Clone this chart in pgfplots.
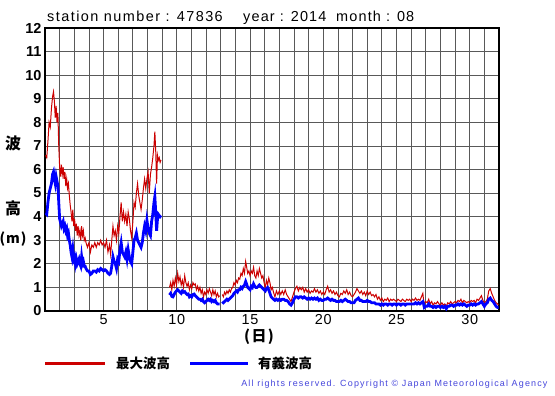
\documentclass[border=0pt]{standalone}
\usepackage{pgfplots}
\pgfplotsset{compat=1.18}
\usepackage{pgfplotstable}
\usepackage{fontspec}
\setmainfont{Liberation Sans}
\newfontfamily\jp{Noto Sans CJK JP}
\definecolor{maxred}{RGB}{204,0,0}
\definecolor{sigblue}{RGB}{0,0,255}
\definecolor{copyblue}{RGB}{70,70,220}

\pgfplotstableread{
x r b
1.04 6.6 4.15
1.12 6.5 4.1
1.2 7.2 4.6
1.28 8.0 5.0
1.36 7.8 5.2
1.44 8.6 5.4
1.52 9.1 5.8
1.58 9.3 5.9
1.64 8.9 5.6
1.70 8.2 5.4
1.76 8.7 5.7
1.82 8.0 5.5
1.88 8.4 5.3
1.94 7.0 4.6
2.0 6.1 3.9
2.06 5.7 3.75
2.12 6.2 3.6
2.18 5.8 3.7
2.24 6.1 3.8
2.3 5.6 3.5
2.36 5.9 3.6
2.42 5.3 3.4
2.48 5.6 3.5
2.54 5.2 3.2
2.6 5.4 3.3
2.66 4.9 3.0
2.72 4.5 2.8
2.78 4.2 2.5
2.84 3.8 2.3
2.9 4.3 2.6
2.96 3.6 2.2
3.02 3.9 2.3
3.08 3.4 2.0
3.14 3.7 2.2
3.2 3.2 2.0
3.26 3.6 2.1
3.32 3.2 2.2
3.38 3.4 2.0
3.44 3.0 1.9
3.5 3.6 2.3
3.56 3.2 2.0
3.62 3.4 2.1
3.68 3.0 1.9
3.74 3.1 1.9
3.8 2.9 1.8
3.9 2.7 1.7
4.0 2.9 1.7
4.1 2.5 1.55
4.2 2.8 1.6
4.3 2.7 1.7
4.4 2.9 1.7
4.5 2.7 1.65
4.6 2.9 1.75
4.7 2.8 1.7
4.8 3.0 1.8
4.9 2.8 1.75
5.0 2.9 1.7
5.1 2.7 1.75
5.2 3.0 1.7
5.3 2.5 1.6
5.4 2.8 1.55
5.48 2.4 1.6
5.56 3.0 1.9
5.64 3.6 2.3
5.72 3.2 2.1
5.8 3.4 2.0
5.88 3.0 1.8
5.96 3.6 2.2
6.04 3.3 2.1
6.12 4.0 2.6
6.2 4.6 2.9
6.28 3.8 2.5
6.36 4.2 2.4
6.44 3.8 2.3
6.52 4.1 2.5
6.6 3.6 2.2
6.68 4.2 2.6
6.76 3.9 2.3
6.84 3.4 2.1
6.92 3.1 2.0
7.0 3.8 2.5
7.08 4.6 3.0
7.16 4.4 3.1
7.24 5.0 3.3
7.32 5.4 3.0
7.4 4.9 2.9
7.48 4.6 2.8
7.56 4.3 2.7
7.64 4.7 2.9
7.72 5.2 3.3
7.8 5.6 3.6
7.88 5.2 3.4
7.96 5.6 3.85
8.04 5.9 3.5
8.12 5.0 3.3
8.2 5.8 3.2
8.28 6.1 3.8
8.36 6.5 4.1
8.44 7.0 4.6
8.5 7.6 4.85
8.56 6.8 4.2
8.62 5.4 3.4
8.68 6.6 3.9
8.74 6.4 4.1
8.8 6.5 4.05
8.86 6.3 4.0
8.92 6.4 4.05
9.2 nan nan
9.5 1.0 0.68
9.58 1.2 0.75
9.66 0.9 0.62
9.74 1.3 0.6
9.82 1.05 0.7
9.9 1.4 0.8
9.98 1.1 0.85
10.06 1.6 0.9
10.14 1.25 0.85
10.22 1.45 0.8
10.3 1.1 0.75
10.38 1.3 0.85
10.46 1.0 0.8
10.54 1.5 0.82
10.62 1.2 0.75
10.7 1.05 0.7
10.78 1.2 0.72
10.86 0.9 0.6
10.94 1.1 0.65
11.02 0.95 0.6
11.1 1.2 0.7
11.18 1.1 0.72
11.26 1.15 0.65
11.34 0.9 0.6
11.42 1.05 0.55
11.5 0.85 0.5
11.58 1.0 0.5
11.66 0.75 0.45
11.74 0.9 0.5
11.82 0.6 0.4
11.9 0.8 0.35
11.98 0.7 0.4
12.06 0.9 0.45
12.14 0.75 0.5
12.22 0.95 0.45
12.3 0.8 0.5
12.38 0.65 0.4
12.46 0.9 0.45
12.54 0.7 0.4
12.62 0.85 0.45
12.7 0.6 0.35
12.78 0.75 0.3
12.86 0.6 0.3
12.92 0.65 0.3
13.0 nan nan
13.1 0.7 0.4
13.18 0.6 0.35
13.26 0.8 0.4
13.34 0.7 0.45
13.42 0.85 0.5
13.5 0.75 0.45
13.58 0.9 0.5
13.66 0.8 0.55
13.74 0.95 0.6
13.82 1.0 0.65
13.9 1.2 0.75
13.98 1.1 0.8
14.06 1.3 0.85
14.14 1.2 0.8
14.22 1.4 0.9
14.3 1.35 0.9
14.38 1.6 1.0
14.46 1.5 0.95
14.54 1.8 1.05
14.62 1.6 1.1
14.7 2.1 1.25
14.76 1.9 1.15
14.84 1.6 1.0
14.92 1.7 0.95
15.0 1.5 0.9
15.08 1.7 1.05
15.16 1.6 1.0
15.24 1.85 1.15
15.32 1.5 1.05
15.4 1.4 1.0
15.48 1.7 1.0
15.56 1.5 1.05
15.64 1.8 1.1
15.72 1.6 1.05
15.8 1.4 1.0
15.88 1.5 0.95
15.96 1.2 0.9
16.04 1.0 0.85
16.12 1.3 0.95
16.2 1.1 1.0
16.28 1.4 0.9
16.36 1.2 0.75
16.44 0.9 0.6
16.52 1.0 0.55
16.6 0.8 0.5
16.7 0.6 0.45
16.8 0.85 0.5
16.9 0.7 0.45
17.0 0.85 0.5
17.1 0.7 0.45
17.2 0.85 0.5
17.3 0.7 0.5
17.4 0.9 0.45
17.5 0.7 0.45
17.6 0.6 0.4
17.7 0.5 0.3
17.8 0.4 0.25
17.9 0.6 0.35
18.0 0.8 0.5
18.1 0.95 0.6
18.2 1.05 0.6
18.3 0.85 0.55
18.4 1.0 0.6
18.5 0.9 0.6
18.6 1.0 0.55
18.7 0.8 0.6
18.8 0.95 0.55
18.9 0.8 0.5
19.0 0.9 0.55
19.1 0.75 0.5
19.2 0.85 0.55
19.3 0.8 0.5
19.4 0.95 0.55
19.5 0.8 0.5
19.6 0.9 0.55
19.7 0.75 0.45
19.8 0.85 0.5
19.9 0.7 0.45
20.0 0.8 0.45
20.1 0.7 0.5
20.2 0.9 0.5
20.3 1.05 0.55
20.4 0.8 0.5
20.5 0.9 0.45
20.6 0.75 0.5
20.7 0.85 0.45
20.8 0.7 0.45
20.9 0.8 0.4
21.0 0.65 0.4
21.1 0.6 0.4
21.2 0.75 0.45
21.3 0.7 0.4
21.4 0.85 0.45
21.5 0.75 0.5
21.6 0.9 0.45
21.7 0.7 0.4
21.8 0.8 0.4
21.9 0.65 0.35
22.0 0.6 0.35
22.1 0.7 0.35
22.2 0.8 0.45
22.3 0.95 0.5
22.4 0.85 0.55
22.5 0.75 0.45
22.6 0.85 0.45
22.7 0.7 0.4
22.8 0.8 0.4
22.9 0.65 0.4
23.0 0.85 0.45
23.1 0.7 0.4
23.2 0.8 0.4
23.3 0.65 0.35
23.4 0.7 0.35
23.5 0.6 0.35
23.6 0.7 0.3
23.7 0.5 0.3
23.8 0.6 0.3
23.9 0.45 0.25
24.0 0.55 0.3
24.1 0.4 0.25
24.2 0.5 0.3
24.3 0.45 0.3
24.4 0.55 0.25
24.5 0.4 0.3
24.6 0.5 0.3
24.7 0.45 0.25
24.8 0.5 0.3
24.9 0.45 0.3
25.0 0.4 0.25
25.1 0.5 0.3
25.2 0.45 0.3
25.3 0.4 0.25
25.4 0.5 0.3
25.5 0.45 0.3
25.6 0.4 0.25
25.7 0.5 0.3
25.8 0.45 0.3
25.9 0.5 0.3
26.0 0.4 0.3
26.1 0.5 0.3
26.2 0.45 0.3
26.3 0.55 0.35
26.4 0.45 0.3
26.5 0.5 0.35
26.6 0.45 0.3
26.7 0.6 0.35
26.8 0.75 0.4
26.85 0.45 0.3
26.9 0.3 0.15
27.0 0.4 0.2
27.1 0.35 0.2
27.2 0.5 0.3
27.3 0.3 0.2
27.4 0.4 0.2
27.5 0.25 0.15
27.6 0.35 0.2
27.7 0.3 0.15
27.8 0.4 0.2
27.9 0.3 0.2
28.0 0.25 0.15
28.1 0.35 0.2
28.2 0.25 0.15
28.3 0.3 0.2
28.4 0.2 0.1
28.5 0.35 0.2
28.6 0.3 0.2
28.7 0.4 0.25
28.8 0.3 0.25
28.9 0.35 0.2
29.0 0.4 0.25
29.1 0.35 0.25
29.2 0.45 0.3
29.3 0.4 0.25
29.4 0.5 0.3
29.5 0.35 0.25
29.6 0.45 0.3
29.7 0.4 0.25
29.8 0.35 0.2
29.9 0.4 0.25
30.0 0.35 0.25
30.1 0.45 0.3
30.2 0.4 0.25
30.3 0.45 0.3
30.4 0.35 0.25
30.5 0.5 0.3
30.6 0.45 0.3
30.7 0.55 0.35
30.8 0.65 0.4
30.9 0.45 0.3
31.0 0.35 0.2
31.1 0.4 0.3
31.2 0.5 0.35
31.3 0.85 0.5
31.4 0.95 0.55
31.5 0.75 0.45
31.6 0.6 0.4
31.7 0.45 0.3
31.8 0.35 0.2
31.9 0.3 0.15
31.97 0.25 0.15
}\wavedata

\begin{document}
\begin{tikzpicture}[x=1bp,y=1bp]
\useasboundingbox (0,0) rectangle (555,395);
\fill[white] (0,0) rectangle (555,395);
\begin{axis}[
  at={(45bp,84bp)}, anchor=south west,
  scale only axis, width=454bp, height=283bp,
  xmin=1, xmax=32, ymin=0, ymax=12,
  xtick={5,10,...,30},
  minor xtick={1,...,32},
  ytick={0,1,...,12},
  grid=both,
  major grid style={black!65, line width=0.8bp},
  minor grid style={black!65, line width=0.8bp},
  major tick length=0pt, minor tick length=0pt,
  axis line style={black, line width=1.6bp},
  /pgf/number format/assume math mode=true,
  yticklabel style={font=\bfseries\fontsize{14.5}{15}\selectfont, xshift=0bp},
  xticklabel style={font=\fontsize{14.5}{15}\selectfont\addfontfeatures{LetterSpace=6}, yshift=0bp},
  unbounded coords=jump,
  clip=true,
]
\addplot[maxred, line width=1bp] table[x=x, y=r] {\wavedata};
\addplot[sigblue, line width=2.8bp] table[x=x, y=b] {\wavedata};
\end{axis}
% title
\node[anchor=base west, inner sep=0pt, font=\fontsize{14.5}{16}\selectfont] at (47,395-21)
  {\addfontfeatures{LetterSpace=10}station number : 47836};
\node[anchor=base west, inner sep=0pt, font=\fontsize{14.5}{16}\selectfont] at (243,395-21)
  {\addfontfeatures{LetterSpace=8}year : 2014};
\node[anchor=base west, inner sep=0pt, font=\fontsize{14.5}{16}\selectfont] at (336,395-21)
  {\addfontfeatures{LetterSpace=8}month : 08};
% y label
\node[font=\jp\bfseries\fontsize{16}{18}\selectfont] at (13,395-143) {波};
\node[font=\jp\bfseries\fontsize{16}{18}\selectfont] at (13,395-208) {高};
\node[inner sep=0pt, font=\jp\bfseries\fontsize{14}{16}\selectfont] at (13,395-239) {(\kern1bp m\kern1bp)};
% x label
\node[font=\jp\bfseries\fontsize{15}{17}\selectfont] at (259,395-337) {(\kern1.5bp 日\kern1.5bp)};
% legend
\draw[maxred, line width=3bp] (45,395-363) -- (105,395-363);
\node[anchor=west, inner sep=0pt, font=\jp\bfseries\fontsize{13.5}{15}\selectfont] at (116,395-363) {最大波高};
\draw[sigblue, line width=3bp] (190,395-363) -- (248,395-363);
\node[anchor=west, inner sep=0pt, font=\jp\bfseries\fontsize{13.5}{15}\selectfont] at (258,395-363) {有義波高};
% copyright
\node[anchor=east, text=copyblue, font=\fontsize{9}{10}\selectfont] at (551,395-384)
  {\addfontfeatures{LetterSpace=13}All rights reserved. Copyright \textcopyright{} Japan Meteorological Agency};
\end{tikzpicture}
\end{document}
